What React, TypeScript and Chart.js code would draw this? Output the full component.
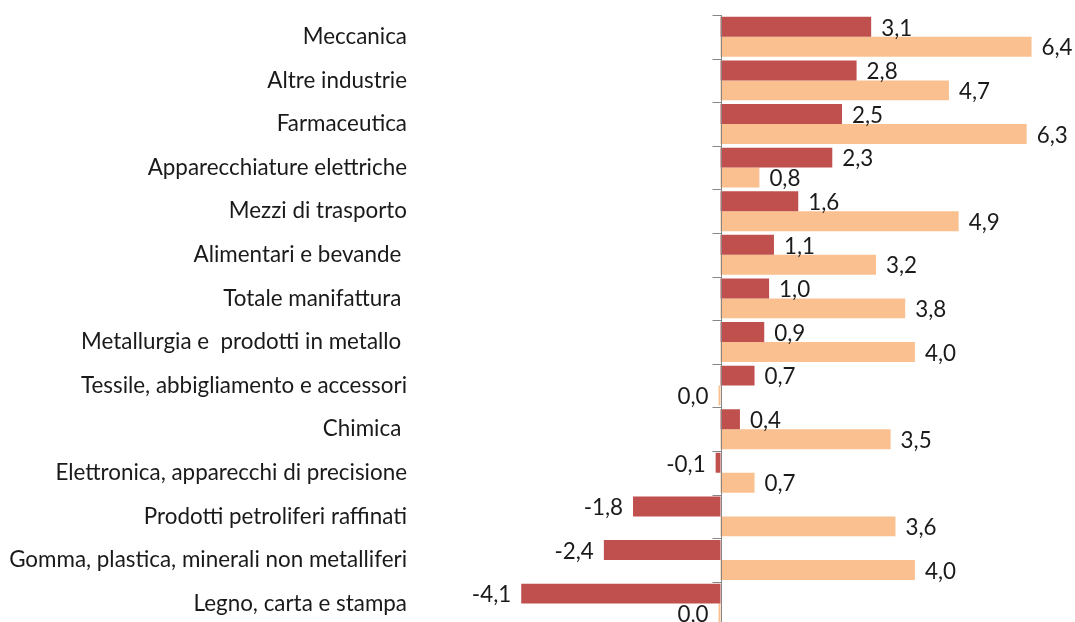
import React, { useEffect, useRef } from "react";
import { Chart, registerables } from "chart.js";

Chart.register(...registerables);

const categories = [
  "Meccanica",
  "Altre industrie",
  "Farmaceutica",
  "Apparecchiature elettriche",
  "Mezzi di trasporto",
  "Alimentari e bevande ",
  "Totale manifattura ",
  "Metallurgia e  prodotti in metallo ",
  "Tessile, abbigliamento e accessori",
  "Chimica ",
  "Elettronica, apparecchi di precisione",
  "Prodotti petroliferi raffinati",
  "Gomma, plastica, minerali non metalliferi",
  "Legno, carta e stampa",
];

const seriesA = [3.1, 2.8, 2.5, 2.3, 1.6, 1.1, 1.0, 0.9, 0.7, 0.4, -0.1, -1.8, -2.4, -4.1];
const seriesB = [6.4, 4.7, 6.3, 0.8, 4.9, 3.2, 3.8, 4.0, -0.04, 3.5, 0.7, 3.6, 4.0, -0.04];

const FONT = "Lato";
const FONT_SIZE = 22.4;

const fmt = (v: number) => {
  if (Math.abs(v) < 0.05) return "0,0";
  return v.toFixed(1).replace(".", ",");
};

const valueLabels = {
  id: "valueLabels",
  afterDatasetsDraw(chart: any) {
    const ctx = chart.ctx;
    const xs = chart.scales.x;
    const ys = chart.scales.y;
    ctx.save();
    // zero axis line with tick marks at category boundaries
    const x0 = Math.round(xs.getPixelForValue(0)) + 0.5;
    ctx.strokeStyle = "#868686";
    ctx.lineWidth = 1;
    ctx.beginPath();
    ctx.moveTo(x0, ys.top);
    ctx.lineTo(x0, ys.bottom);
    for (let i = 0; i <= categories.length; i++) {
      const yb = Math.round(ys.getPixelForValue(i - 0.5)) + 0.5;
      ctx.moveTo(x0 - 9, yb);
      ctx.lineTo(x0, yb);
    }
    ctx.stroke();

    ctx.font = `${FONT_SIZE}px ${FONT}`;
    ctx.fillStyle = "#1a1a1a";
    ctx.textBaseline = "middle";
    chart.data.datasets.forEach((ds: any, di: number) => {
      const meta = chart.getDatasetMeta(di);
      meta.data.forEach((el: any, i: number) => {
        const v = ds.data[i];
        const { x, y } = el.getProps(["x", "y"], true);
        if (v > 0) {
          ctx.textAlign = "left";
          ctx.fillText(fmt(v), x + 10, y + 1.5);
        } else {
          ctx.textAlign = "right";
          ctx.fillText(fmt(v), x - 10, y + 1.5);
        }
      });
    });
    ctx.restore();
  },
};

export default function App() {
  const ref = useRef<HTMLCanvasElement>(null);
  useEffect(() => {
    if (!ref.current) return;
    const chart = new Chart(ref.current, {
      type: "bar",
      data: {
        labels: categories,
        datasets: [
          {
            label: "Serie 1",
            data: seriesA,
            backgroundColor: "#C0504D",
            categoryPercentage: 0.915,
            barPercentage: 1,
          },
          {
            label: "Serie 2",
            data: seriesB,
            backgroundColor: "#FAC08F",
            categoryPercentage: 0.915,
            barPercentage: 1,
          },
        ],
      },
      options: {
        indexAxis: "y",
        responsive: false,
        animation: false,
        layout: { padding: { top: 15, right: 14.3, bottom: 34.6, left: 0 } },
        plugins: {
          legend: { display: false },
          tooltip: { enabled: false },
        },
        scales: {
          x: {
            type: "linear",
            min: -5,
            max: 7,
            display: false,
          },
          y: {
            type: "category",
            position: "left",
            offset: true,
            grid: { display: false, drawTicks: false },
            border: { display: false },
            ticks: {
              padding: 70.5,
              color: "#1a1a1a",
              font: { family: FONT, size: FONT_SIZE },
              autoSkip: false,
            },
            afterFit: (scale: any) => {
              scale.width = 477.5;
              scale.paddingTop = 0;
              scale.paddingBottom = 0;
            },
          },
        },
      },
      plugins: [valueLabels],
    });
    return () => chart.destroy();
  }, []);
  return (
    <div
      style={{
        position: "fixed",
        left: 0,
        top: 0,
        width: 1075,
        height: 622,
        overflow: "hidden",
        background: "#fff",
      }}
    >
      <canvas ref={ref} width={1075} height={660} style={{ display: "block" }} />
    </div>
  );
}
